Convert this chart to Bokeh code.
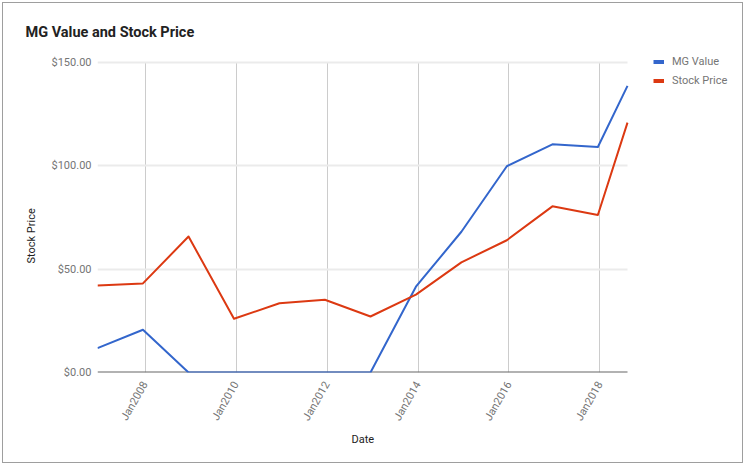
import math
import pandas as pd
from bokeh.plotting import figure
from bokeh.models import (Range1d, FixedTicker, NumeralTickFormatter, DatetimeTickFormatter,
                          Title, Legend, LegendItem, ColumnDataSource)
from bokeh.embed import file_html
from bokeh.resources import INLINE

# ---- data ----
dates = ["2006-12-15", "2007-12-15", "2008-12-15", "2009-12-15", "2010-12-15",
         "2011-12-15", "2012-12-15", "2013-12-15", "2014-12-15", "2015-12-15",
         "2016-12-15", "2017-12-15", "2018-08-10"]
mg_value = [11.8, 20.7, 0, 0, 0, 0, 0, 41.5, 68.1, 99.8, 110.4, 109.1, 138.7]
stock_price = [42.1, 43.1, 65.8, 26.0, 33.5, 35.2, 27.1, 37.7, 53.3, 64.0, 80.4, 76.2, 120.9]
x_tick_labels = ["Jan2008", "Jan2010", "Jan2012", "Jan2014", "Jan2016", "Jan2018"]
y_ticks = [0, 50, 100, 150]
series_names = ["MG Value", "Stock Price"]
series_colors = ["#3366cc", "#dc3912"]
title_text = "MG Value and Stock Price"
x_title = "Date"
y_title = "Stock Price"

FONT = "Roboto"

# ---- layout (pixels) ----
CW, CH = 741, 461            # canvas size
BL, BT, BR, BB = 94, 41, 10, 92
FW, FH = CW - BL - BR, CH - BT - BB   # frame (includes legend area)
PLOT_W, PLOT_H = 530, 310    # the chart area proper

dt = pd.to_datetime(dates)
source = ColumnDataSource(dict(date=dt, mg=mg_value, price=stock_price))
x_tick_ms = [pd.to_datetime(t, format="%b%Y").value / 1e6 for t in x_tick_labels]

x_start = dt[0]
x_end = dt[0] + (dt[-1] - dt[0]) * (FW / PLOT_W)
y_top = y_ticks[-1]
y_end = y_top * FH / PLOT_H

p = figure(x_axis_type="datetime", width=CW, height=CH,
           min_border_left=BL, min_border_right=BR, min_border_top=BT, min_border_bottom=BB,
           x_range=Range1d(x_start, x_end), y_range=Range1d(y_ticks[0], y_end),
           output_backend="svg", toolbar_location=None, tools="")
p.styles = {"border": "1px solid #9e9e9e", "margin-left": "2px", "margin-top": "2px"}
p.outline_line_color = None
p.background_fill_color = "white"
p.border_fill_color = "white"

# title
p.title = Title(text=title_text, align="left", offset=-72, standoff=8,
                text_font=FONT, text_font_size="14.5px", text_font_style="bold",
                text_color="#222222")

# axes
p.xaxis.ticker = FixedTicker(ticks=x_tick_ms)
p.xaxis.formatter = DatetimeTickFormatter(years="%b%Y", months="%b%Y", days="%b%Y",
                                          hours="%b%Y", minutes="%b%Y", seconds="%b%Y")
p.xaxis.major_label_orientation = math.pi / 3
p.yaxis.ticker = FixedTicker(ticks=y_ticks)
p.yaxis.formatter = NumeralTickFormatter(format="$0.00")
for ax in (p.xaxis, p.yaxis):
    ax.axis_line_color = None
    ax.major_tick_line_color = None
    ax.minor_tick_line_color = None
    ax.major_tick_out = 0
    ax.major_tick_in = 0
    ax.minor_tick_out = 0
    ax.major_label_text_font = FONT
    ax.major_label_text_font_size = "11px"
    ax.major_label_text_color = "#757575"
p.yaxis.major_label_standoff = 6
p.xaxis.major_label_standoff = 10

# x-axis title centred under the chart area
p.add_layout(Title(text=x_title, align="left", offset=254, standoff=3,
                   text_font=FONT, text_font_size="11px", text_font_style="normal",
                   text_color="#222222"), "below")
# y-axis title, placed like the original (below the chart centre)
p.add_layout(Title(text=y_title, align="left", offset=109, standoff=22,
                   text_font=FONT, text_font_size="11px", text_font_style="normal",
                   text_color="#222222"), "left")

# grid, limited to the chart area
p.xgrid.ticker = p.xaxis.ticker
p.xgrid.grid_line_color = "#cccccc"
p.xgrid.grid_line_width = 1
p.xgrid.cross_bounds = (y_ticks[0], y_ticks[-1])
p.ygrid.grid_line_color = "#ebebeb"
p.ygrid.grid_line_width = 2
p.ygrid.cross_bounds = (dt[0].value / 1e6, dt[-1].value / 1e6)

# baseline
p.segment(x0=[dt[0]], y0=[y_ticks[0]], x1=[dt[-1]], y1=[y_ticks[0]],
          line_color="#666666", line_width=2)

# lines
p.line("date", "mg", source=source, line_color=series_colors[0], line_width=2, line_join="round")
p.line("date", "price", source=source, line_color=series_colors[1], line_width=2, line_join="round")

# legend swatches (thicker, Google-style); these draw nothing in the plot area
swatch_src = ColumnDataSource(dict(date=[dt[0]], v=[float("nan")]))
sw = [p.line("date", "v", source=swatch_src, line_color=c, line_width=4) for c in series_colors]
legend = Legend(items=[LegendItem(label=n, renderers=[r]) for n, r in zip(series_names, sw)],
                location=(556, 282), padding=0, margin=0, spacing=0,
                glyph_width=11, glyph_height=19, label_height=19, label_standoff=8,
                label_text_font=FONT, label_text_font_size="11px", label_text_color="#757575",
                border_line_color=None, background_fill_alpha=0)
p.add_layout(legend)

open("out.html", "w").write(file_html(p, INLINE))
